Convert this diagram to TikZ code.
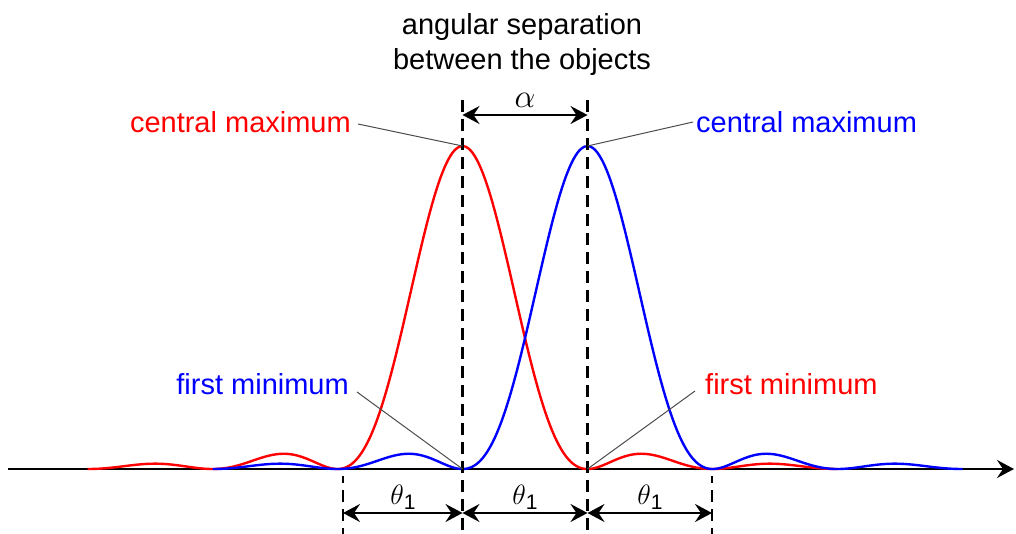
\documentclass[tikz,border=0pt]{standalone}
\usepackage{fix-cm}
\usepackage{fontspec}
\setmainfont{Liberation Sans}
\usetikzlibrary{arrows.meta}
\begin{document}
\begin{tikzpicture}[x=1pt,y=-1pt,
  lbl/.style={font=\fontsize{29}{35}\selectfont, inner sep=0pt, align=center},
  sym/.style={font=\fontsize{28}{30}\selectfont, inner sep=0pt},
  bigsym/.style={font=\fontsize{33}{36}\selectfont, inner sep=0pt},
  curve/.style={line width=2.4pt, line join=round},
  leader/.style={draw=black!70, line width=1pt},
  vdash/.style={line width=2.2pt, dash pattern=on 12pt off 7pt},
  tip/.style={},
  dim/.style={line width=2.2pt, {Stealth[length=17pt,width=18pt,inset=6pt]}-{Stealth[length=17pt,width=18pt,inset=6pt]}},
  axisline/.style={line width=2.2pt, -{Stealth[length=17pt,width=18pt,inset=6pt]}}
]
\useasboundingbox (0,0) rectangle (1016,534);
% axis
\coordinate (ax0) at (8,469);
\coordinate (ax1) at (1014,469);
\draw[axisline] (ax0) -- (ax1);
% curves
\draw[curve, red] plot[domain=-3*pi:3*pi, samples=400, smooth] ({462.5+125*\x/pi}, {469-323*(sin(\x r)/\x)^2});
\draw[curve, blue] plot[domain=-3*pi:3*pi, samples=400, smooth] ({587.5+125*\x/pi}, {469-323*(sin(\x r)/\x)^2});
% key points
\coordinate (pr) at (462.5,146);
\coordinate (pb) at (587.5,146);
\coordinate (mr) at (587.5,469);
\coordinate (mb) at (462.5,469);
% vertical dashed lines
\coordinate (t1) at (462.5,100);
\coordinate (t2) at (587.5,100);
\coordinate (b0) at (343,534);
\coordinate (b1) at (462.5,534);
\coordinate (b2) at (587.5,534);
\coordinate (b3) at (712,534);
\coordinate (s0) at (343,476);
\coordinate (s3) at (712,476);
\draw[vdash] (t1) -- (b1);
\draw[vdash] (t2) -- (b2);
\draw[vdash, dash phase=5pt] (s0) -- (b0);
\draw[vdash, dash phase=5pt] (s3) -- (b3);
% alpha
\coordinate (a1) at (462.5,115);
\coordinate (a2) at (587.5,115);
\draw[dim] (a1) -- (a2);
\node[bigsym] (alpha) at (525,100) {$\alpha$};
% theta arrows
\coordinate (d0) at (343,513);
\coordinate (d1) at (462.5,513);
\coordinate (d2) at (587.5,513);
\coordinate (d3) at (712,513);
\draw[dim] (d0) -- (d1);
\draw[dim] (d1) -- (d2);
\draw[dim] (d2) -- (d3);
\newcommand{\thone}{$\theta$\raisebox{-5pt}{\fontsize{21}{21}\selectfont 1}}
\node[sym] (th1) at (403,497) {\thone};
\node[sym] (th2) at (525,497) {\thone};
\node[sym] (th3) at (650,497) {\thone};
% title
\node[lbl] (title) at (522,45) {angular separation\\between the objects};
% labels
\node[lbl, red, anchor=east] (cmr) at (351,122) {central maximum};
\node[lbl, blue, anchor=west] (cmb) at (696,122) {central maximum};
\node[lbl, blue, anchor=east] (fmb) at (349,384) {first minimum};
\node[lbl, red, anchor=west] (fmr) at (705,384) {first minimum};
% leaders
\coordinate (lr) at (358,124);
\coordinate (lb) at (693,122);
\coordinate (lfb) at (357,392);
\coordinate (lfr) at (695,391);
\draw[leader] (lr) -- (pr);
\draw[leader] (lb) -- (pb);
\draw[leader] (lfb) -- (mb);
\draw[leader] (lfr) -- (mr);
\end{tikzpicture}
\end{document}
